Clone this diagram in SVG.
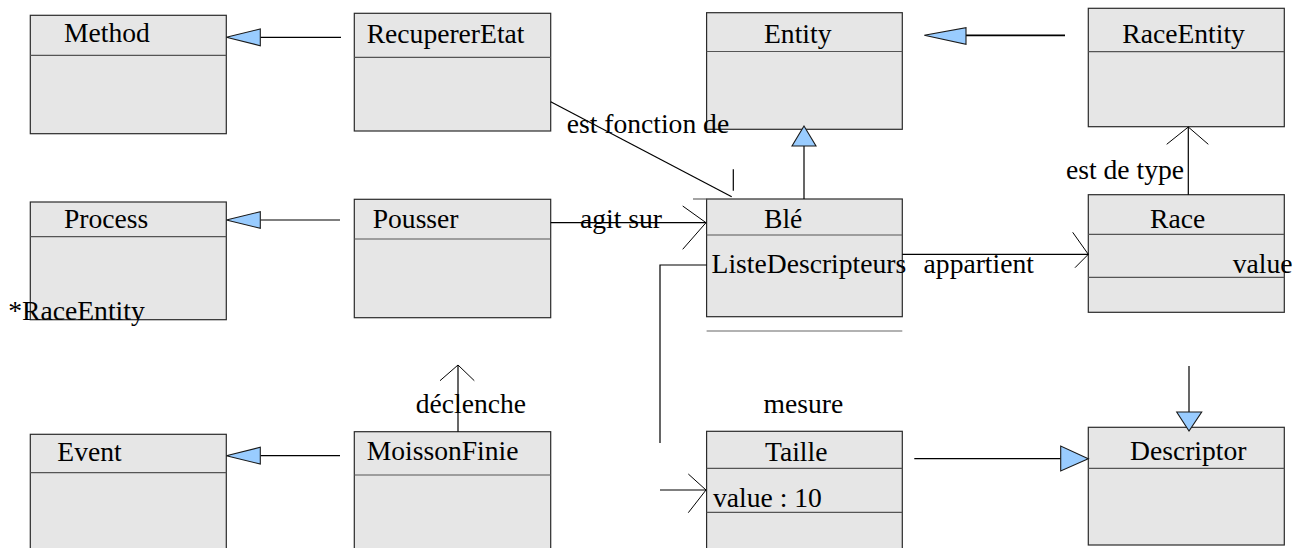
<svg xmlns="http://www.w3.org/2000/svg" width="1305" height="548" viewBox="0 0 1305 548">
  <style>
    .box { fill: #e6e6e6; stroke: #2a2a2a; stroke-width: 1.2; }
    .div { stroke: #555555; stroke-width: 1.2; fill: none; }
    .t { font-family: "Liberation Serif", "Times New Roman", serif; font-size: 27.6px; fill: #000000; }
    .ln { stroke: #000000; stroke-width: 1.2; fill: none; }
    .thick { stroke-width: 1.8; }
    .gen { fill: #99ccff; stroke: #1a1a1a; stroke-width: 1.1; stroke-linejoin: miter; }
    .open { stroke: #000000; stroke-width: 1; fill: none; }
    .frag { stroke: #666666; stroke-width: 1.2; fill: none; }
  </style>
  <rect width="1305" height="548" fill="#ffffff"/>

  <!-- class nodes -->
  <g id="method">
    <rect class="box" x="30.3" y="15.3" width="196" height="118.4"/>
    <line class="div" x1="30.3" y1="55.3" x2="226.3" y2="55.3"/>
    <text class="t" x="64" y="42.3">Method</text>
  </g>
  <g id="recuperer-etat">
    <rect class="box" x="354.3" y="13.3" width="196.4" height="117.7"/>
    <line class="div" x1="354.3" y1="57.3" x2="550.7" y2="57.3"/>
    <text class="t" x="366.7" y="42.5">RecupererEtat</text>
  </g>
  <g id="entity">
    <rect class="box" x="706.6" y="12.7" width="195.7" height="116.6"/>
    <line class="div" x1="706.6" y1="51.5" x2="902.3" y2="51.5"/>
    <text class="t" x="764" y="42.7">Entity</text>
  </g>
  <g id="race-entity">
    <rect class="box" x="1088.3" y="8.3" width="196" height="118.4"/>
    <line class="div" x1="1088.3" y1="51.7" x2="1284.3" y2="51.7"/>
    <text class="t" x="1122.3" y="42.7">RaceEntity</text>
  </g>
  <g id="process">
    <rect class="box" x="30.3" y="202" width="196" height="117.7"/>
    <line class="div" x1="30.3" y1="236.7" x2="226.3" y2="236.7"/>
    <text class="t" x="64" y="227.7">Process</text>
    <text class="t" x="8.3" y="320">*RaceEntity</text>
  </g>
  <g id="pousser">
    <rect class="box" x="354.3" y="199.3" width="196.4" height="118.4"/>
    <line class="div" x1="354.3" y1="239" x2="550.7" y2="239"/>
    <text class="t" x="372.7" y="227.7">Pousser</text>
  </g>
  <g id="ble">
    <rect class="box" x="706.6" y="199" width="195.7" height="117.7"/>
    <line class="div" x1="706.6" y1="235" x2="902.3" y2="235"/>
    <line class="frag" x1="693" y1="199" x2="706.6" y2="199"/>
    <line class="frag" x1="706.6" y1="331" x2="902.3" y2="331"/>
    <text class="t" x="764" y="227.7">Blé</text>
    <text class="t" x="711.6" y="273.3">ListeDescripteurs</text>
  </g>
  <g id="race">
    <rect class="box" x="1088.3" y="194.7" width="196" height="117.6"/>
    <line class="div" x1="1088.3" y1="234.3" x2="1284.3" y2="234.3"/>
    <line class="div" x1="1088.3" y1="277.3" x2="1284.3" y2="277.3"/>
    <text class="t" x="1150" y="228">Race</text>
    <text class="t" x="1232.7" y="273.3">value</text>
  </g>
  <g id="event">
    <rect class="box" x="30.3" y="434.3" width="196" height="120"/>
    <line class="div" x1="30.3" y1="472.7" x2="226.3" y2="472.7"/>
    <text class="t" x="57.3" y="460.7">Event</text>
  </g>
  <g id="moisson-finie">
    <rect class="box" x="354.3" y="431.7" width="196.4" height="122"/>
    <line class="div" x1="354.3" y1="475" x2="550.7" y2="475"/>
    <text class="t" x="366.7" y="460">MoissonFinie</text>
  </g>
  <g id="taille">
    <rect class="box" x="706.6" y="431.3" width="195.7" height="122"/>
    <line class="div" x1="706.6" y1="468.3" x2="902.3" y2="468.3"/>
    <line class="div" x1="706.6" y1="512.3" x2="902.3" y2="512.3"/>
    <text class="t" x="765" y="461">Taille</text>
    <text class="t" x="713" y="506.5">value : 10</text>
  </g>
  <g id="descriptor">
    <rect class="box" x="1088.3" y="427.3" width="196" height="117.7"/>
    <line class="div" x1="1088.3" y1="468.3" x2="1284.3" y2="468.3"/>
    <text class="t" x="1130" y="460">Descriptor</text>
  </g>

  <!-- connectors -->
  <g id="connectors">
    <!-- generalisations (hollow blue triangles) -->
    <line class="ln" x1="260.3" y1="37.3" x2="341" y2="37.3"/>
    <polygon class="gen" points="226.3,37.3 260.3,29 260.3,45.7"/>

    <line class="ln" x1="260.3" y1="220" x2="340" y2="220"/>
    <polygon class="gen" points="226.3,220 260.3,211.7 260.3,228.3"/>

    <line class="ln" x1="260.3" y1="455.7" x2="340" y2="455.7"/>
    <polygon class="gen" points="226.3,455.7 260.3,447.3 260.3,464"/>

    <line class="ln thick" x1="966" y1="35.3" x2="1065" y2="35.3"/>
    <polygon class="gen" points="924.3,35.3 966,27.7 966,44.3"/>

    <line class="ln" x1="804" y1="146" x2="804" y2="199"/>
    <polygon class="gen" points="804,126 792,146 816,146"/>

    <line class="ln" x1="914.3" y1="458.7" x2="1060.7" y2="458.7"/>
    <polygon class="gen" points="1088.3,458.7 1060.7,446 1060.7,471"/>

    <line class="ln" x1="1189" y1="366" x2="1189" y2="412"/>
    <polygon class="gen" points="1189,431 1176.7,412 1201.7,412"/>

    <!-- associations -->
    <line class="ln" x1="550.7" y1="101.7" x2="731.7" y2="196.7"/>
    <line class="ln" x1="733.3" y1="169.3" x2="733.3" y2="190.7"/>
    <text class="t" x="566.7" y="133.3">est fonction de</text>

    <line class="ln" x1="1188.3" y1="127" x2="1188.3" y2="194.7"/>
    <polyline class="open" points="1166.7,144.3 1188.3,127 1208.3,144.3"/>
    <text class="t" x="1066" y="179">est de type</text>

    <line class="ln" x1="550.7" y1="222.7" x2="706" y2="222.7"/>
    <polyline class="open" points="682.7,206 706,222.7 682.7,249.3"/>
    <text class="t" x="580" y="228">agit sur</text>

    <line class="ln" x1="902.3" y1="254.3" x2="1088.3" y2="254.3"/>
    <polyline class="open" points="1072.7,232.3 1088.3,254.3 1075,267.7"/>
    <text class="t" x="923.6" y="273">appartient</text>

    <polyline class="ln" points="706.6,265 660,265 660,443"/>
    <line class="ln" x1="660" y1="490" x2="706" y2="490"/>
    <polyline class="open" points="688.3,474 706,490 688.3,512.7"/>
    <text class="t" x="763.6" y="413.3">mesure</text>

    <line class="ln" x1="458" y1="365" x2="458" y2="431.7"/>
    <polyline class="open" points="440,380.7 458,365 474.3,380.7"/>
    <text class="t" x="415.7" y="413.3">déclenche</text>
  </g>
</svg>
